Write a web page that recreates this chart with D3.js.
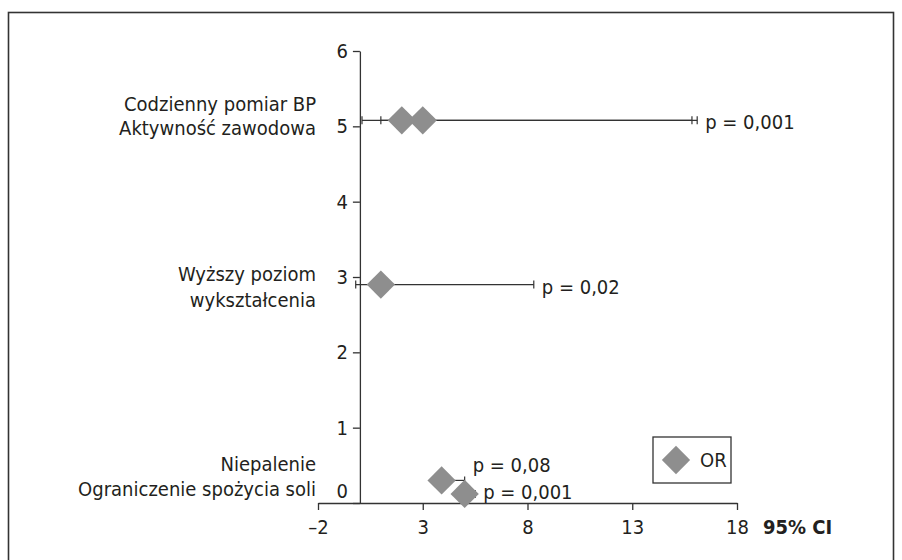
<!DOCTYPE html>
<html lang="pl">
<head>
  <meta charset="UTF-8">
  <title>OR – 95% CI</title>
  <script src="https://d3js.org/d3.v7.min.js"></script>
  <style>
    body {
      margin: 0;
      padding: 0;
      background: #fff;
      overflow: hidden;
    }
    svg text {
      font-family: "Liberation Sans Narrow", "DejaVu Sans Condensed", "Roboto Condensed", sans-serif;
      fill: #231f20;
    }
    .axis path, .axis line { stroke: #333; stroke-width: 1.3px; }
    .axis text { font-size: 20px; }
    .bar { stroke: #333; stroke-width: 1.2px; fill: none; }
  </style>
</head>
<body>
  <svg id="chart" width="902" height="560"></svg>

  <script>
    // —— data ——
    const rowNames  = ["Codzienny pomiar BP", "Aktywność zawodowa", "Wyższy poziom wykształcenia",
                       "Niepalenie", "Ograniczenie spożycia soli"];
    const orValues  = [2.0, 3.0, 1.0, 3.9, 5.0];
    const rowY      = [5.08, 5.08, 2.9, 0.3, 0.12];
    const ciLow     = [0.1, 1.0, -0.2, 3.5, 4.6];
    const ciHigh    = [15.85, 16.1, 8.3, 5.0, 5.5];
    const pLabels   = ["", "p = 0,001", "p = 0,02", "p = 0,08", "p = 0,001"];

    const xTicks = [-2, 3, 8, 13, 18];
    const yTicks = [0, 1, 2, 3, 4, 5, 6];

    // left-hand category text, line by line, anchored at a y value
    const catText = ["Codzienny pomiar BP", "Aktywność zawodowa", "Wyższy poziom", "wykształcenia",
                     "Niepalenie", "Ograniczenie spożycia soli"];
    const catAt   = [5.3, 4.98, 3.04, 2.7, 0.52, 0.19];

    // —— layout ——
    const svg = d3.select("#chart");
    const x = d3.scaleLinear().domain([-2, 18]).range([318, 737]);
    const y = d3.scaleLinear().domain([0, 6]).range([503, 51]);

    // outer frame
    svg.append("rect")
      .attr("x", 8.5).attr("y", 12.5)
      .attr("width", 885).attr("height", 600)
      .attr("fill", "none").attr("stroke", "#333").attr("stroke-width", 1.6);

    // x axis sits on y = 0
    const xAxis = svg.append("g").attr("class", "axis")
      .attr("transform", `translate(0,${y(0)})`)
      .call(d3.axisBottom(x).tickValues(xTicks).tickSize(7).tickSizeOuter(0)
        .tickFormat(d => d < 0 ? "–" + Math.abs(d) : d));
    xAxis.selectAll("text").attr("dy", "1.05em");

    // y axis crosses at x = 0
    const yAxis = svg.append("g").attr("class", "axis")
      .attr("transform", `translate(${x(0)},0)`)
      .call(d3.axisLeft(y).tickValues(yTicks).tickFormat(d3.format("d"))
        .tickSize(7).tickSizeOuter(0).tickPadding(5));
    yAxis.selectAll(".tick").filter(d => d === 0).select("text").attr("dy", "-0.3em");

    svg.append("text")
      .attr("x", 763).attr("y", y(0) + 31)
      .style("font-size", "20px").style("font-weight", "bold")
      .text("95% CI");

    // category labels
    svg.append("g").selectAll("text")
      .data(catText).join("text")
      .attr("x", 316)
      .attr("y", (d, i) => y(catAt[i]))
      .attr("dy", "0.35em")
      .attr("text-anchor", "end")
      .style("font-size", "20px")
      .text(d => d);

    // error bars
    const rows = rowNames.map((n, i) => ({
      name: n, or: orValues[i], y: rowY[i], lo: ciLow[i], hi: ciHigh[i], p: pLabels[i]
    }));
    const cap = 4;
    const bars = svg.append("g").selectAll("g").data(rows).join("g");
    bars.append("line").attr("class", "bar")
      .attr("x1", d => x(d.lo)).attr("x2", d => x(d.hi))
      .attr("y1", d => y(d.y)).attr("y2", d => y(d.y));
    bars.append("line").attr("class", "bar")
      .attr("x1", d => x(d.lo)).attr("x2", d => x(d.lo))
      .attr("y1", d => y(d.y) - cap).attr("y2", d => y(d.y) + cap);
    bars.append("line").attr("class", "bar")
      .attr("x1", d => x(d.hi)).attr("x2", d => x(d.hi))
      .attr("y1", d => y(d.y) - cap).attr("y2", d => y(d.y) + cap);

    // OR diamonds
    const diamond = d3.symbol().type(d3.symbolSquare).size(400);
    svg.append("g").selectAll("path")
      .data(rows).join("path")
      .attr("d", diamond)
      .attr("transform", d => `translate(${x(d.or)},${y(d.y)}) rotate(45)`)
      .attr("fill", "#8e8e8e");

    // p values
    const pShift = { 3: -15, 4: -2 };
    svg.append("g").selectAll("text")
      .data(rows.filter(d => d.p)).join("text")
      .attr("x", d => x(d.hi) + 8)
      .attr("y", d => y(d.y) + (pShift[rows.indexOf(d)] || 2))
      .attr("dy", "0.35em")
      .style("font-size", "20px")
      .text(d => d.p);

    // legend
    const lg = svg.append("g").attr("transform", "translate(653,437)");
    lg.append("rect").attr("width", 78).attr("height", 46)
      .attr("fill", "#fff").attr("stroke", "#333").attr("stroke-width", 1.3);
    lg.append("path").attr("d", diamond)
      .attr("transform", "translate(23,23) rotate(45)")
      .attr("fill", "#8e8e8e");
    lg.append("text").attr("x", 47).attr("y", 23).attr("dy", "0.35em")
      .style("font-size", "20px").text("OR");
  </script>
</body>
</html>
